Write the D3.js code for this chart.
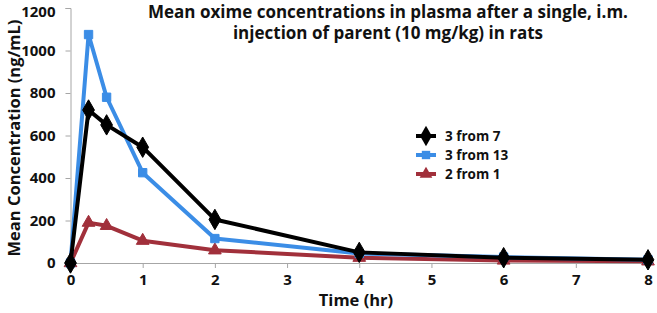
<!DOCTYPE html>
<html><head><meta charset="utf-8">
<script src="https://cdn.jsdelivr.net/npm/d3@7"></script>
<style>body{margin:0;background:#fff}svg text{font-family:"Open Sans",sans-serif;font-weight:bold;fill:#111}</style>
</head><body><svg id="c" width="657" height="313"></svg>
<script>
const times = [0, 0.25, 0.5, 1, 2, 4, 6, 8];
const seriesNames = ["3 from 7", "3 from 13", "2 from 1"];
const s3from7 = [0, 720, 650, 545, 205, 50, 25, 15];
const s3from13 = [0, 1075, 780, 425, 115, 45, 28, 15];
const s2from1 = [0, 190, 175, 105, 60, 25, 12, 8];
const xTicks = [0, 1, 2, 3, 4, 5, 6, 7, 8];
const yTicks = [0, 200, 400, 600, 800, 1000, 1200];
const titleLines = ["Mean oxime concentrations in plasma after a single, i.m.", "injection of parent (10 mg/kg) in rats"];

const colors = ["#000000", "#3b8de6", "#a1303b"];
const symbols = [d3.symbolDiamond, d3.symbolSquare, d3.symbolTriangle];
const symSizes = [120, 70, 70];
const values = [s3from7, s3from13, s2from1];

const svg = d3.select("#c");
const x = d3.scaleLinear().domain([0, 8]).range([70.5, 648]);
const y = d3.scaleLinear().domain([0, 1200]).range([263, 8]);

// axes
const xa = svg.append("g").attr("transform", "translate(0,263)")
  .call(d3.axisBottom(x).tickValues(xTicks).tickSize(5).tickPadding(6).tickFormat(d3.format("d")));
const ya = svg.append("g").attr("transform", "translate(70.5,0)")
  .call(d3.axisLeft(y).tickValues(yTicks).tickSize(5).tickPadding(10).tickFormat(d3.format("d")));
[xa, ya].forEach(a => {
  a.select(".domain").attr("stroke", "#a6a6a6");
  a.selectAll(".tick line").attr("stroke", "#a6a6a6");
  a.selectAll("text").style("font-size", "15px").attr("fill", "#111");
});
ya.selectAll(".tick text").filter(d => d === 1200).attr("dy", "0.55em");

const line = d3.line().x((d, i) => x(times[i])).y(d => y(d));
const order = [2, 1, 0];
order.forEach(k => {
  svg.append("path").datum(values[k]).attr("d", line)
    .attr("fill", "none").attr("stroke", colors[k]).attr("stroke-width", 4)
    .attr("stroke-linejoin", "round");
  svg.selectAll(null).data(values[k]).enter().append("path")
    .attr("transform", (d, i) => `translate(${x(times[i])},${y(d)})`)
    .attr("d", d3.symbol().type(symbols[k]).size(symSizes[k]))
    .attr("fill", colors[k]).attr("stroke", colors[k]).attr("stroke-width", 1);
});

// title
const t = svg.append("text").attr("text-anchor", "middle").style("font-size", "17px");
titleLines.forEach((l, i) => t.append("tspan").attr("x", 388).attr("y", 18 + i * 21).text(l));

// axis labels
svg.append("text").attr("x", 356).attr("y", 306).attr("text-anchor", "middle").style("font-size", "16.5px").text("Time (hr)");
svg.append("text").attr("transform", "translate(20,138) rotate(-90)").attr("text-anchor", "middle").style("font-size", "16.5px").text("Mean Concentration (ng/mL)");

// legend
seriesNames.forEach((n, k) => {
  const ly = 136 + k * 19;
  const g = svg.append("g");
  g.append("line").attr("x1", 416).attr("x2", 436).attr("y1", ly).attr("y2", ly)
    .attr("stroke", colors[k]).attr("stroke-width", 4);
  g.append("path").attr("transform", `translate(426,${ly})`)
    .attr("d", d3.symbol().type(symbols[k]).size(symSizes[k])).attr("fill", colors[k]);
  g.append("text").attr("x", 445).attr("y", ly + 5).style("font-size", "13.5px").text(n);
});
</script></body></html>
